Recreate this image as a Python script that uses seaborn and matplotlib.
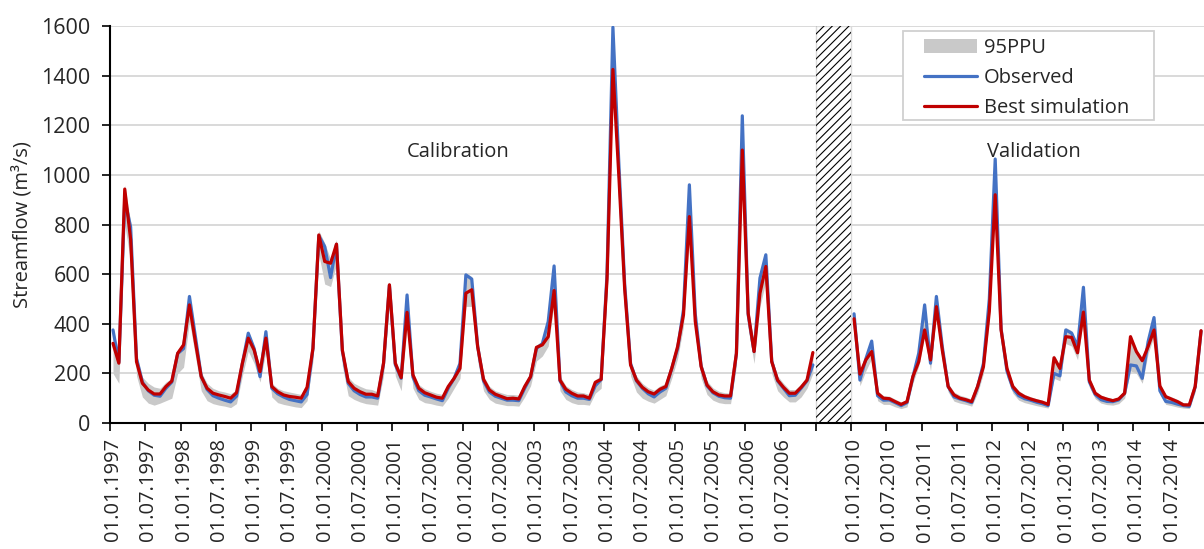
import numpy as np
import pandas as pd
import matplotlib
matplotlib.use("Agg")
import matplotlib.pyplot as plt
from matplotlib.patches import Patch, Rectangle
from matplotlib.lines import Line2D
import seaborn as sns

# ---------------- data (monthly streamflow, m3/s) ----------------
# Calibration period: Jan 1997 - Dec 2006
obs_cal = [375, 245, 900, 790, 260, 165, 130, 112, 108, 140, 165, 280,
           300, 510, 350, 190, 135, 110, 100, 92, 85, 108, 240, 362,
           300, 187, 368, 140, 118, 105, 95, 90, 85, 115, 300, 755,
           711, 586, 720, 290, 160, 130, 115, 105, 105, 100, 240, 555,
           235, 180, 516, 185, 130, 112, 105, 97, 90, 140, 180, 240,
           597, 580, 310, 170, 125, 108, 100, 92, 92, 90, 140, 185,
           300, 320, 409, 633, 170, 125, 110, 100, 100, 95, 150, 175,
           600, 1595, 1050, 560, 240, 170, 140, 118, 105, 125, 140, 220,
           300, 457, 960, 440, 230, 150, 122, 108, 102, 100, 280, 1238,
           436, 288, 584, 678, 250, 170, 140, 110, 112, 140, 170, 234]
sim_cal = [321, 241, 943, 740, 247, 160, 133, 117, 117, 147, 169, 281,
           315, 476, 328, 187, 140, 120, 113, 107, 100, 122, 241, 342,
           294, 207, 342, 147, 126, 113, 107, 104, 100, 144, 301, 758,
           651, 644, 721, 294, 167, 140, 126, 116, 116, 109, 241, 557,
           241, 183, 446, 194, 140, 122, 113, 104, 100, 147, 180, 220,
           523, 537, 308, 176, 133, 116, 107, 98, 100, 97, 147, 187,
           305, 315, 348, 534, 173, 136, 120, 109, 109, 100, 164, 176,
           580, 1425, 1000, 540, 234, 173, 144, 126, 117, 136, 147, 220,
           308, 436, 832, 410, 227, 153, 126, 113, 109, 109, 281, 1100,
           442, 288, 523, 631, 247, 173, 144, 120, 120, 144, 173, 284]
low_cal = [200, 160, 800, 650, 190, 105, 80, 72, 80, 90, 100, 200,
           225, 410, 270, 130, 90, 78, 72, 68, 62, 78, 190, 290,
           240, 165, 290, 105, 82, 75, 70, 65, 62, 90, 250, 680,
           560, 550, 640, 230, 110, 95, 85, 78, 75, 72, 190, 480,
           190, 130, 390, 140, 95, 82, 78, 72, 68, 100, 140, 180,
           470, 470, 250, 130, 95, 80, 75, 70, 70, 68, 105, 150,
           250, 270, 310, 480, 130, 95, 82, 75, 75, 72, 120, 140,
           520, 1350, 920, 480, 190, 125, 100, 88, 80, 95, 110, 180,
           260, 390, 760, 360, 180, 115, 92, 82, 78, 78, 230, 1020,
           380, 240, 470, 570, 200, 130, 105, 85, 85, 105, 140, 200]
up_cal = [390, 260, 960, 810, 275, 185, 160, 145, 140, 165, 180, 295,
          325, 520, 360, 205, 160, 140, 130, 125, 118, 135, 255, 370,
          310, 215, 375, 160, 140, 130, 125, 120, 115, 155, 315, 775,
          725, 660, 740, 305, 185, 160, 148, 138, 135, 125, 255, 570,
          255, 198, 525, 205, 155, 138, 128, 120, 115, 160, 195, 250,
          605, 590, 320, 190, 148, 130, 122, 115, 115, 112, 160, 200,
          315, 330, 415, 640, 190, 150, 135, 125, 122, 115, 175, 190,
          620, 1600, 1060, 570, 250, 190, 160, 142, 132, 150, 160, 235,
          320, 465, 965, 450, 245, 170, 142, 128, 122, 120, 295, 1240,
          455, 300, 590, 685, 265, 190, 160, 135, 135, 158, 185, 290]

# Validation period: Jan 2010 - Dec 2014
obs_val = [440, 173, 258, 330, 110, 92, 93, 82, 70, 82, 185, 281,
           476, 241, 510, 308, 147, 105, 97, 90, 82, 145, 240, 500,
           1064, 380, 210, 140, 110, 98, 92, 84, 78, 70, 200, 190,
           375, 362, 308, 547, 166, 115, 94, 87, 86, 93, 120, 234,
           230, 180, 328, 425, 130, 87, 83, 76, 70, 67, 145, 370]
sim_val = [420, 197, 254, 288, 120, 100, 98, 86, 75, 86, 187, 247,
           375, 254, 469, 294, 147, 113, 100, 94, 86, 147, 227, 450,
           920, 375, 220, 147, 120, 106, 97, 90, 84, 75, 263, 220,
           348, 345, 283, 447, 173, 120, 104, 96, 90, 97, 120, 348,
           288, 251, 308, 375, 149, 106, 96, 86, 73, 73, 147, 372]
low_val = [390, 150, 210, 260, 90, 75, 75, 65, 58, 65, 160, 230,
           350, 210, 440, 265, 125, 88, 80, 75, 68, 120, 200, 420,
           880, 340, 185, 120, 92, 82, 76, 70, 65, 60, 180, 170,
           320, 310, 255, 420, 145, 98, 80, 74, 72, 78, 100, 210,
           200, 160, 280, 350, 115, 75, 70, 64, 60, 58, 125, 340]
up_val = [450, 210, 268, 340, 130, 110, 108, 96, 85, 95, 200, 290,
          485, 265, 520, 315, 160, 125, 112, 105, 96, 160, 250, 510,
          1070, 390, 232, 158, 130, 115, 106, 98, 92, 84, 275, 232,
          385, 372, 315, 555, 185, 130, 112, 104, 98, 105, 132, 358,
          298, 262, 335, 432, 160, 115, 105, 95, 82, 80, 158, 380]

cal_years = list(range(1997, 2007))
val_years = list(range(2010, 2015))
gap_months = 6
tick_months = ["01", "07"]

# ---------------- build frame ----------------
n_cal, n_val = len(obs_cal), len(obs_val)
pos_cal = np.arange(n_cal)
pos_val = np.arange(n_val) + n_cal + gap_months
df = pd.concat([
    pd.DataFrame({"pos": pos_cal, "obs": obs_cal, "sim": sim_cal,
                  "low": low_cal, "up": up_cal, "period": "Calibration"}),
    pd.DataFrame({"pos": pos_val, "obs": obs_val, "sim": sim_val,
                  "low": low_val, "up": up_val, "period": "Validation"}),
], ignore_index=True)

# ---------------- style ----------------
sns.set_theme(style="white")
plt.rcParams["font.family"] = ["Open Sans", "DejaVu Sans"]
plt.rcParams["hatch.linewidth"] = 0.8
FS = 14.5
BLUE, RED, GREY = "#4472C4", "#C00000", "#C9C9C9"

fig, ax = plt.subplots(figsize=(12.04, 5.49), dpi=100)
fig.subplots_adjust(left=0.0914, right=1.0, top=0.9526, bottom=0.2295)

for per, g in df.groupby("period"):
    ax.fill_between(g["pos"], g["low"], g["up"], color=GREY, lw=0, zorder=1)
    sns.lineplot(data=g, x="pos", y="obs", color=BLUE, lw=2.3, ax=ax,
                 zorder=3, legend=False)
    sns.lineplot(data=g, x="pos", y="sim", color=RED, lw=2.3, ax=ax,
                 zorder=4, legend=False)

# gap (hatched)
x0, x1 = n_cal - 0.5, n_cal + gap_months - 0.5
ax.axvspan(x0, x1, facecolor="white", edgecolor="#DADADA", lw=1.0, zorder=2)
ax.axvspan(x0, x1, facecolor="none", edgecolor="black", lw=0, hatch="////",
           zorder=2.5)

# axes
ax.set_xlim(-0.5, n_cal + gap_months + n_val - 0.5)
ax.set_ylim(0, 1600)
ax.set_yticks(range(0, 1601, 200))
ax.yaxis.grid(True, color="#D9D9D9", lw=1.4, zorder=0)
ax.set_axisbelow(True)

label_pos, label_txt = [], []
for yrs, offset in ((cal_years, 0), (val_years, n_cal + gap_months)):
    for k, y in enumerate(yrs):
        for j, m in enumerate(tick_months):
            label_pos.append(offset + 12 * k + 6 * j)
            label_txt.append(f"01.{m}.{y}")
ax.set_xticks(label_pos)
ax.set_xticklabels(label_txt, rotation=90, fontsize=FS)
bounds = [p - 0.5 for p in label_pos] + [n_cal - 0.5]
ax.set_xticks(sorted(bounds), minor=True)
ax.tick_params(axis="x", which="major", length=0, pad=11)
ax.tick_params(axis="x", which="minor", length=5.5, width=1.2,
               color="black", bottom=True, direction="out")
ax.tick_params(axis="y", which="major", length=6, width=1.2, color="black",
               left=True, direction="out", labelsize=15.5, pad=8)

for s in ("top", "right"):
    ax.spines[s].set_visible(False)
for s in ("left", "bottom"):
    ax.spines[s].set_color("black")
    ax.spines[s].set_linewidth(1.5)

ax.set_xlabel("")
ax.set_ylabel("Streamflow (m³/s)", fontsize=FS, labelpad=6)

ax.text(58.6, 1093, "Calibration", ha="center", va="center", fontsize=FS)
ax.text(156.6, 1093, "Validation", ha="center", va="center", fontsize=FS)

# legend frame drawn separately, legend content placed inside it
frame = Rectangle((0.7251, 0.7632), 0.2292, 0.2242, transform=ax.transAxes,
                  facecolor="white", edgecolor="#D0D0D0", lw=1.3, zorder=5)
ax.add_patch(frame)
handles = [Patch(facecolor=GREY, edgecolor="none"),
           Line2D([], [], color=BLUE, lw=2.3),
           Line2D([], [], color=RED, lw=2.3)]
leg = ax.legend(handles, ["95PPU", "Observed", "Best simulation"],
                loc="upper left", bbox_to_anchor=(0.7445, 0.970),
                frameon=False, fontsize=FS, handlelength=2.6,
                handletextpad=0.35, labelspacing=0.5, borderpad=0,
                borderaxespad=0)
leg.set_zorder(6)

fig.savefig("out.png", dpi=100)
